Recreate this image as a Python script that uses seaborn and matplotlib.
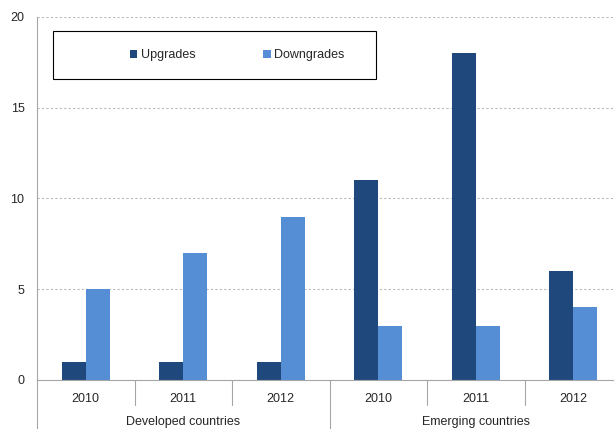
import matplotlib
matplotlib.use("Agg")
import matplotlib.pyplot as plt
from matplotlib.patches import Rectangle
import pandas as pd
import seaborn as sns

groups = ["Developed countries", "Emerging countries"]
years = ["2010", "2011", "2012"]
upgrades = [1, 1, 1, 11, 18, 6]
downgrades = [5, 7, 9, 3, 3, 4]
series = ["Upgrades", "Downgrades"]
colors = ["#1F497D", "#558ED5"]

keys = [g + " " + y for g in groups for y in years]
df = pd.DataFrame({
    "cat": keys * 2,
    "series": [series[0]] * 6 + [series[1]] * 6,
    "value": upgrades + downgrades,
})

sns.set_style("white")
plt.rcParams["font.family"] = ["Liberation Sans", "DejaVu Sans"]

fig = plt.figure(figsize=(6.14, 4.29), dpi=100)
ax = fig.add_axes([37 / 614, 1 - 380 / 429, 585 / 614, 363 / 429])

sns.barplot(data=df, x="cat", y="value", hue="series", order=keys,
            hue_order=series, palette=colors, width=0.49, saturation=1,
            edgecolor="none", linewidth=0, ax=ax)

ax.set_xlim(-0.5, 5.5)
ax.set_ylim(0, 20)
ax.set_yticks([0, 5, 10, 15, 20])
ax.yaxis.grid(True, linestyle=(0, (2, 2)), color="#BBBBBB", linewidth=0.8)
ax.set_axisbelow(True)
ax.set_xlabel("")
ax.set_ylabel("")
for s in ["top", "right"]:
    ax.spines[s].set_visible(False)
ax.spines["left"].set_color("#A6A6A6")
ax.spines["bottom"].set_color("#A6A6A6")
ax.tick_params(axis="y", length=4, color="#A6A6A6", labelsize=9, pad=5)
ax.tick_params(axis="x", length=0, labelsize=9, pad=9)
ax.set_xticks(range(6))
ax.set_xticklabels(years * 2)

# category separators under the axis
tr = ax.get_xaxis_transform()
for x in [0.5, 1.5, 3.5, 4.5]:
    ax.plot([x, x], [0, -0.069], transform=tr, color="#A6A6A6",
            lw=0.8, clip_on=False)
for x in [-0.5, 2.5, 5.5]:
    ax.plot([x, x], [0, -0.14], transform=tr, color="#A6A6A6",
            lw=0.8, clip_on=False)
for i, g in enumerate(groups):
    ax.text(1 + 3 * i, -0.131, g, transform=tr, ha="center", va="bottom",
            fontsize=9)

# legend
ax.legend(loc="center left", bbox_to_anchor=(0.150, 0.895), ncol=2,
          frameon=False, fontsize=9, handlelength=0.6, handleheight=0.6,
          handletextpad=0.3, columnspacing=5.4, borderaxespad=0)
ax.add_patch(Rectangle((0.027, 0.829), 0.552, 0.132, transform=ax.transAxes,
                       fill=False, edgecolor="black", lw=0.8, clip_on=False))

fig.savefig("out.png", dpi=100)
